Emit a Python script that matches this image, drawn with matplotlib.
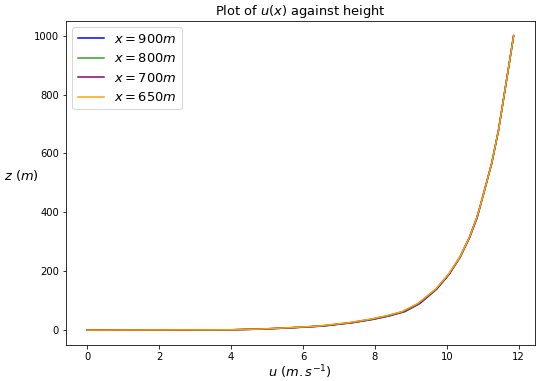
import numpy as np
import matplotlib.pyplot as plt

# heights (m)
z = [0, 1, 3.4, 8, 13.7, 25, 36.5, 48, 62.5, 90, 139, 190, 247, 315, 383, 452, 566, 679, 793, 907, 1000]

# wind speed u (m/s) for each section
u_650 = [0, 3.94, 4.77, 5.6, 6.43, 7.26, 7.85, 8.3, 8.75, 9.19, 9.69, 10.05, 10.36, 10.63, 10.84, 11.0, 11.25, 11.44, 11.59, 11.74, 11.86]
u_700 = [0, 3.96, 4.81, 5.65, 6.48, 7.3, 7.88, 8.33, 8.77, 9.21, 9.7, 10.06, 10.36, 10.63, 10.84, 11.0, 11.25, 11.44, 11.59, 11.74, 11.86]
u_800 = [0, 3.98, 4.85, 5.69, 6.52, 7.34, 7.92, 8.37, 8.8, 9.23, 9.71, 10.06, 10.37, 10.63, 10.84, 11.0, 11.25, 11.44, 11.59, 11.74, 11.86]
u_900 = [0, 4.0, 4.89, 5.74, 6.56, 7.38, 7.96, 8.4, 8.83, 9.25, 9.72, 10.07, 10.37, 10.64, 10.85, 11.0, 11.25, 11.44, 11.59, 11.74, 11.86]

labels = ['$x = 900m$', '$x = 800m$', '$x = 700m$', '$x = 650m$']
colors = ['blue', 'tab:green', 'purple', 'orange']

fig = plt.figure(figsize=(536 / 72, 381 / 72), dpi=72)
ax = fig.add_axes([0.123, 0.095, 0.875, 0.85])

for u, lab, c in zip([u_900, u_800, u_700, u_650], labels, colors):
    ax.plot(u, z, color=c, label=lab, linewidth=1.5)

ax.set_title('Plot of $u(x)$ against height', fontsize=13)
ax.set_xlabel('$u\\ (m.s^{-1})$', fontsize=13, labelpad=2)
ax.set_ylabel('$z\\ (m)$', fontsize=13, rotation=0, labelpad=12)
ax.tick_params(labelsize=10)
ax.legend(loc='upper left', fontsize=13)

fig.savefig('out.png', dpi=72)
